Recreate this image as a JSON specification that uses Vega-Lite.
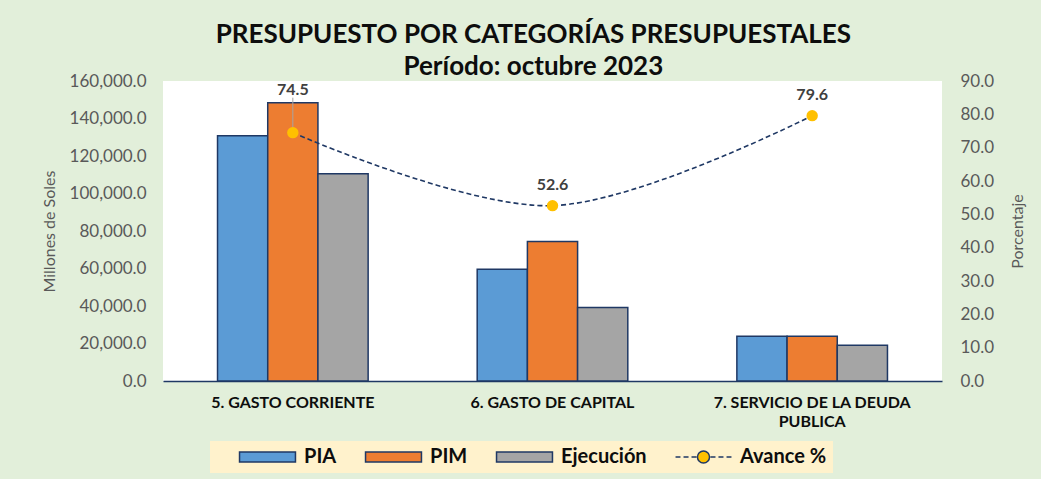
{
  "$schema": "https://vega.github.io/schema/vega-lite/v6.json",
  "width": 779,
  "height": 300,
  "autosize": {"type": "none"},
  "padding": {"left": 163, "top": 81, "right": 99, "bottom": 98},
  "background": "#e2efda",
  "view": {"fill": "white", "stroke": null},
  "config": {"font": "Lato"},
  "title": {
    "text": ["PRESUPUESTO  POR CATEGORÍAS PRESUPUESTALES", "Período: octubre 2023"],
    "fontSize": 26,
    "fontWeight": "bold",
    "color": "#0d0d0d",
    "lineHeight": 32,
    "anchor": "middle",
    "frame": "bounds",
    "offset": -8
  },
  "datasets": {
    "barras": [
      {"categoria": "5. GASTO CORRIENTE", "serie": "PIA", "monto": 130800},
      {"categoria": "5. GASTO CORRIENTE", "serie": "PIM", "monto": 148400},
      {"categoria": "5. GASTO CORRIENTE", "serie": "Ejecución", "monto": 110600},
      {"categoria": "6. GASTO DE CAPITAL", "serie": "PIA", "monto": 59600},
      {"categoria": "6. GASTO DE CAPITAL", "serie": "PIM", "monto": 74400},
      {"categoria": "6. GASTO DE CAPITAL", "serie": "Ejecución", "monto": 39200},
      {"categoria": "7. SERVICIO DE LA DEUDA PUBLICA", "serie": "PIA", "monto": 23900},
      {"categoria": "7. SERVICIO DE LA DEUDA PUBLICA", "serie": "PIM", "monto": 23900},
      {"categoria": "7. SERVICIO DE LA DEUDA PUBLICA", "serie": "Ejecución", "monto": 19100}
    ],
    "avance": [
      {"categoria": "5. GASTO CORRIENTE", "avance": 74.5},
      {"categoria": "6. GASTO DE CAPITAL", "avance": 52.6},
      {"categoria": "7. SERVICIO DE LA DEUDA PUBLICA", "avance": 79.6}
    ]
  },
  "layer": [
    {
      "data": {"name": "barras"},
      "mark": {"type": "bar", "stroke": "#1f3864", "strokeWidth": 1.5},
      "encoding": {
        "x": {
          "field": "categoria",
          "type": "nominal",
          "sort": ["5. GASTO CORRIENTE", "6. GASTO DE CAPITAL", "7. SERVICIO DE LA DEUDA PUBLICA"],
          "scale": {"paddingInner": 0.42, "paddingOuter": 0.21},
          "axis": {
            "title": null,
            "labelAngle": 0,
            "labelFontWeight": "bold",
            "labelFontSize": 16,
            "labelColor": "#0d0d0d",
            "labelPadding": 13,
            "labelLineHeight": 19,
            "labelLimit": 400,
            "labelExpr": "datum.value == '7. SERVICIO DE LA DEUDA PUBLICA' ? ['7. SERVICIO DE LA DEUDA', 'PUBLICA'] : datum.label",
            "ticks": false,
            "domainColor": "#1f3864",
            "domainWidth": 1.5
          }
        },
        "xOffset": {"field": "serie", "type": "nominal", "sort": ["PIA", "PIM", "Ejecución"]},
        "y": {
          "field": "monto",
          "type": "quantitative",
          "scale": {"domain": [0, 160000]},
          "axis": {
            "values": [0, 20000, 40000, 60000, 80000, 100000, 120000, 140000, 160000],
            "format": ",.1f",
            "labelFontSize": 17,
            "labelColor": "#595959",
            "labelPadding": 17,
            "domain": false,
            "ticks": false,
            "grid": false,
            "title": "Millones de Soles",
            "titleFontSize": 16,
            "titleFontWeight": "normal",
            "titleColor": "#595959",
            "titlePadding": 12
          }
        },
        "fill": {
          "field": "serie",
          "type": "nominal",
          "scale": {
            "domain": ["PIA", "PIM", "Ejecución", "Avance %"],
            "range": ["#5b9bd5", "#ed7d31", "#a5a5a5", "#ffc000"]
          },
          "legend": {
            "title": null,
            "orient": "none",
            "legendX": 47,
            "legendY": 360,
            "direction": "horizontal",
            "fillColor": "#fff2cc",
            "padding": 6,
            "symbolOffset": 41.5,
            "symbolSize": 289,
            "symbolStrokeColor": "#1f3864",
            "symbolStrokeWidth": 1.5,
            "symbolOpacity": 1,
            "labelFontSize": 20,
            "labelFontWeight": "bold",
            "labelColor": "#0d0d0d",
            "labelOffset": 26.5,
            "labelLimit": 300,
            "columnPadding": 5,
            "encode": {
              "symbols": {
                "update": {
                  "shape": {"signal": "datum.value == 'Avance %' ? 'M-3.29,0H-2.71M-2.35,0H-1.76M-1.41,0H-0.82M0.82,0H1.41M1.76,0H2.35M2.71,0H3.29M-0.71,0A0.71,0.71,0,1,1,0.71,0A0.71,0.71,0,1,1,-0.71,0Z' : 'M-3.29,-0.59H3.29V0.59H-3.29Z'"}
                }
              }
            }
          }
        }
      }
    },
    {
      "data": {"name": "avance"},
      "encoding": {
        "x": {
          "field": "categoria",
          "type": "nominal",
          "sort": ["5. GASTO CORRIENTE", "6. GASTO DE CAPITAL", "7. SERVICIO DE LA DEUDA PUBLICA"]
        },
        "y": {
          "field": "avance",
          "type": "quantitative",
          "scale": {"domain": [0, 90]},
          "axis": {
            "orient": "right",
            "values": [0, 10, 20, 30, 40, 50, 60, 70, 80, 90],
            "format": ".1f",
            "labelFontSize": 17,
            "labelColor": "#595959",
            "labelPadding": 18,
            "domain": false,
            "ticks": false,
            "grid": false,
            "title": "Porcentaje",
            "titleAngle": 270,
            "titleFontSize": 16,
            "titleFontWeight": "normal",
            "titleColor": "#595959",
            "titlePadding": 32
          }
        }
      },
      "layer": [
        {
          "transform": [{"filter": "datum.categoria == '5. GASTO CORRIENTE'"}],
          "mark": {"type": "rule", "color": "#a5a5a5", "strokeWidth": 1},
          "encoding": {"y2": {"datum": 85}}
        },
        {
          "mark": {"type": "line", "interpolate": "cardinal", "color": "#1f3864", "strokeWidth": 1.6, "strokeDash": [5, 3]}
        },
        {
          "mark": {"type": "point", "filled": true, "size": 130, "color": "#ffc000", "opacity": 1}
        },
        {
          "transform": [{"filter": "datum.categoria == '5. GASTO CORRIENTE'"}],
          "mark": {"type": "text", "dy": -43, "fontSize": 16, "fontWeight": "bold", "color": "#404040"},
          "encoding": {"text": {"field": "avance", "type": "quantitative", "format": ".1f"}}
        },
        {
          "transform": [{"filter": "datum.categoria != '5. GASTO CORRIENTE'"}],
          "mark": {"type": "text", "dy": -21, "fontSize": 16, "fontWeight": "bold", "color": "#404040"},
          "encoding": {"text": {"field": "avance", "type": "quantitative", "format": ".1f"}}
        }
      ]
    }
  ],
  "resolve": {"scale": {"y": "independent"}}
}
